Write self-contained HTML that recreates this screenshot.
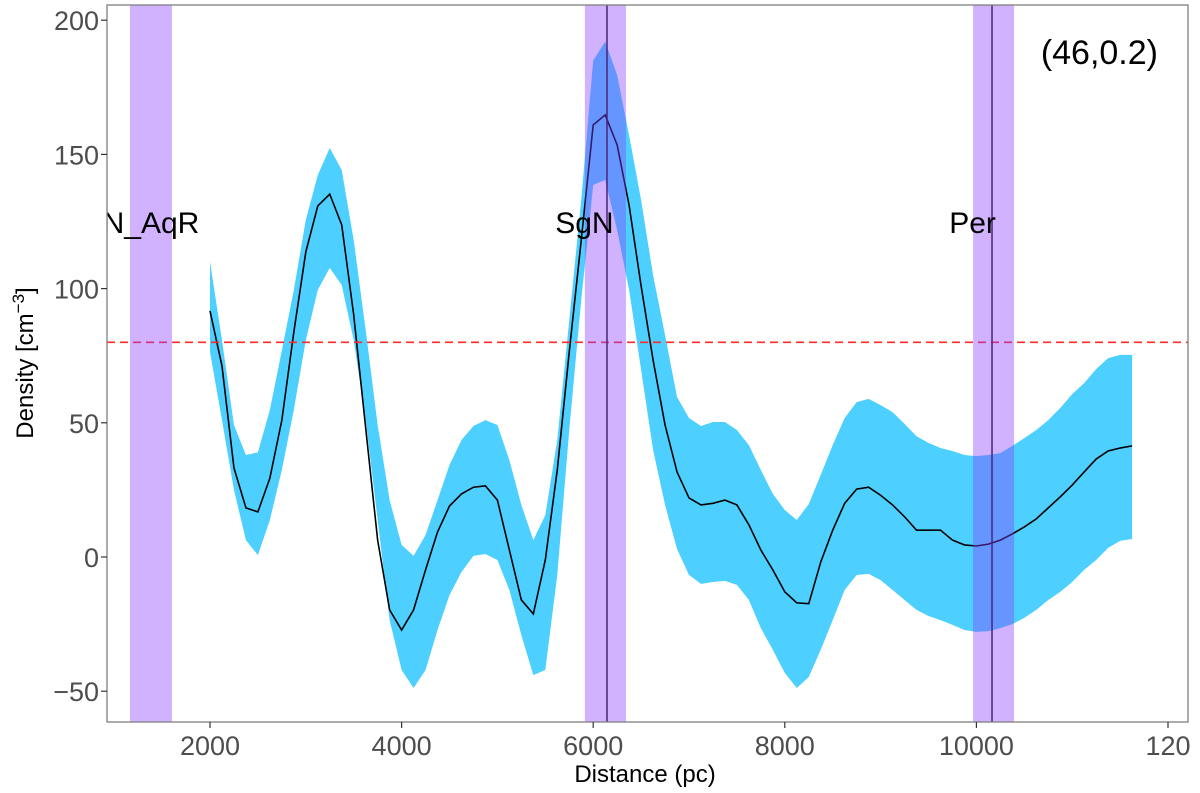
<!DOCTYPE html>
<html><head><meta charset="utf-8"><style>
body{margin:0;background:#fff;}
svg{display:block;font-family:"Liberation Sans",sans-serif;}
</style></head><body>
<svg id="chart" width="1200" height="793"></svg>
<script>
const distances=[2000,2125,2250,2375,2500,2625,2750,2875,3000,3125,3250,3375,3500,3625,3750,3875,4000,4125,4250,4375,4500,4625,4750,4875,5000,5125,5250,5375,5500,5625,5750,5875,6000,6125,6250,6375,6500,6625,6750,6875,7000,7125,7250,7375,7500,7625,7750,7875,8000,8125,8250,8375,8500,8625,8750,8875,9000,9125,9250,9375,9500,9625,9750,9875,10000,10125,10250,10375,10500,10625,10750,10875,11000,11125,11250,11375,11500,11625];
const meanDensity=[91.7,71.2,33.2,18.3,16.8,29.4,51,83.8,113.6,130.8,135.2,123.7,90.2,48.1,6.3,-19.7,-27.2,-19.7,-4.8,9.3,19,23.5,26,26.5,21.2,2.6,-16,-21.2,-1.1,32.4,76.4,118,161,164.7,153.5,131,101,73.4,49.2,31.7,22,19.4,20,21.2,19.4,12,2.6,-4.8,-13,-17.1,-17.4,-1.9,10,20,25.3,26,23,19.4,15,10,10,10,6.3,4.5,4.1,4.8,6.3,8.6,11.2,14.2,18.3,22.4,26.8,31.7,36.5,39.5,40.6,41.4];
const upperDensity=[110,80.8,49.2,38,39,54.8,77,99.5,125.6,142.3,152.4,144.2,118,84.6,49.2,21.2,4.5,0.4,8.2,21.2,34.3,43.6,48.8,51,49.2,36.1,19.4,6.3,15.6,43.6,88.3,133,185,192,179.6,157,133,105,82.7,59.6,51.8,48.8,50.3,50.3,47.3,41.7,32.4,23.5,17.5,13.8,19.7,30.6,41.7,51.8,57.7,58.9,56.6,54,49.6,45,42.5,40.6,39.5,38,37.6,38,38.7,41.4,44.3,47.3,51,55.5,60.7,64.8,70,74.1,75.3,75.3];
const lowerDensity=[76.4,51,25,6.3,0.7,13.8,32.4,54.8,80.8,99.5,107.7,101.3,80.8,51,13.8,-23.5,-42.1,-48.8,-42.1,-27.2,-14.2,-5.6,0.4,1.1,-1.1,-12.3,-29.1,-44,-42.1,-6.7,47.3,95.8,138.6,140.5,121.8,99.5,69.7,39.9,19.4,3,-6.7,-10,-9.3,-8.9,-10.4,-16,-26.5,-34.6,-43.2,-48.8,-44.7,-34.6,-23.5,-12.3,-6.7,-6.3,-8.6,-12.3,-16,-19.7,-22,-23.5,-25.3,-27.2,-27.9,-27.6,-26.5,-25,-22.7,-19.7,-16,-13,-9.3,-4.8,-1.1,3.4,6,6.7];
const armNames=["N_AqR","SgN","Per"];
const armStart=[1165,5913,9965];
const armEnd=[1603,6342,10393];
const armCenter=[null,6144,10163];
const xTicks=[2000,4000,6000,8000,10000,12000];
const xTickLabels=["2000","4000","6000","8000","10000","120"];
const yTicks=[-50,0,50,100,150,200];
const threshold=[80];

const L=107,R=1188,T=5,B=722;
const X=d=>18.4+d*0.0958;
const Y=v=>557-v*2.684;
const svg=document.getElementById('chart');
const NS="http://www.w3.org/2000/svg";
function mk(tag,attrs,parent){const e=document.createElementNS(NS,tag);for(const k in attrs)e.setAttribute(k,attrs[k]);(parent||svg).appendChild(e);return e;}
const defs=mk('defs',{});
const cp=mk('clipPath',{id:'clip'},defs);
mk('rect',{x:L,y:T,width:R-L,height:B-T},cp);
const g=mk('g',{'clip-path':'url(#clip)'});

let pts=distances.map((d,i)=>X(d)+','+Y(upperDensity[i]));
for(let i=distances.length-1;i>=0;i--)pts.push(X(distances[i])+','+Y(lowerDensity[i]));
const rib=mk('polygon',{points:pts.join(' '),fill:'#4dd0ff'},g);


const ln=mk('polyline',{points:distances.map((d,i)=>X(d)+','+Y(meanDensity[i])).join(' '),fill:'none',stroke:'#000','stroke-width':1.6},g);


threshold.forEach(t=>{
 const h=mk('line',{x1:L,x2:R,y1:Y(t),y2:Y(t),stroke:'#ff2a2a','stroke-width':1.6,'stroke-dasharray':'8 5'},g);
 
 
});
armNames.forEach((n,i)=>{
 const r=mk('rect',{x:X(armStart[i]),y:T,width:X(armEnd[i])-X(armStart[i]),height:B-T,fill:'rgb(137,63,255)','fill-opacity':0.4},g);
 
 
 if(armCenter[i]!==null){
  const c=mk('line',{x1:X(armCenter[i]),x2:X(armCenter[i]),y1:T,y2:B,stroke:'#4a2378','stroke-width':1.5},g);
  
  
 }
 const off=(i===0)?0:-21;
 const tx=mk('text',{x:(X(armStart[i])+X(armEnd[i]))/2+off,y:233,'font-size':30,'text-anchor':'middle',fill:'#000'},g);
 tx.textContent=n;
 
 
});
const fr=mk('rect',{x:L,y:T,width:R-L,height:B-T,fill:'none',stroke:'#7f7f7f','stroke-width':1.3});


xTicks.forEach((t,i)=>{
 mk('line',{x1:X(t),x2:X(t),y1:B,y2:B+6,stroke:'#333','stroke-width':1.2});
 const tx=mk('text',{x:X(t),y:755,'font-size':27,'text-anchor':'middle',fill:'#4d4d4d'});
 tx.textContent=xTickLabels[i];
 
 
});
yTicks.forEach(t=>{
 mk('line',{x1:L-6,x2:L,y1:Y(t),y2:Y(t),stroke:'#333','stroke-width':1.2});
 const tx=mk('text',{x:L-8,y:Y(t)+10,'font-size':27,'text-anchor':'end',fill:'#4d4d4d'});
 tx.textContent=t<0?'\u2212'+(-t):String(t);
 
 
});
const xl=mk('text',{x:645,y:782,'font-size':24,'text-anchor':'middle',fill:'#000'});
xl.textContent='Distance (pc)';


const yl=mk('text',{transform:'translate(33,363) rotate(-90)','font-size':24,'text-anchor':'middle',fill:'#000'});
yl.innerHTML='Density [cm<tspan dy="-9" font-size="17">\u22123</tspan><tspan dy="9">]</tspan>';


const an=mk('text',{x:1158,y:64,'font-size':34,'text-anchor':'end',fill:'#000'});
an.textContent='(46,0.2)';


</script>
</body></html>
